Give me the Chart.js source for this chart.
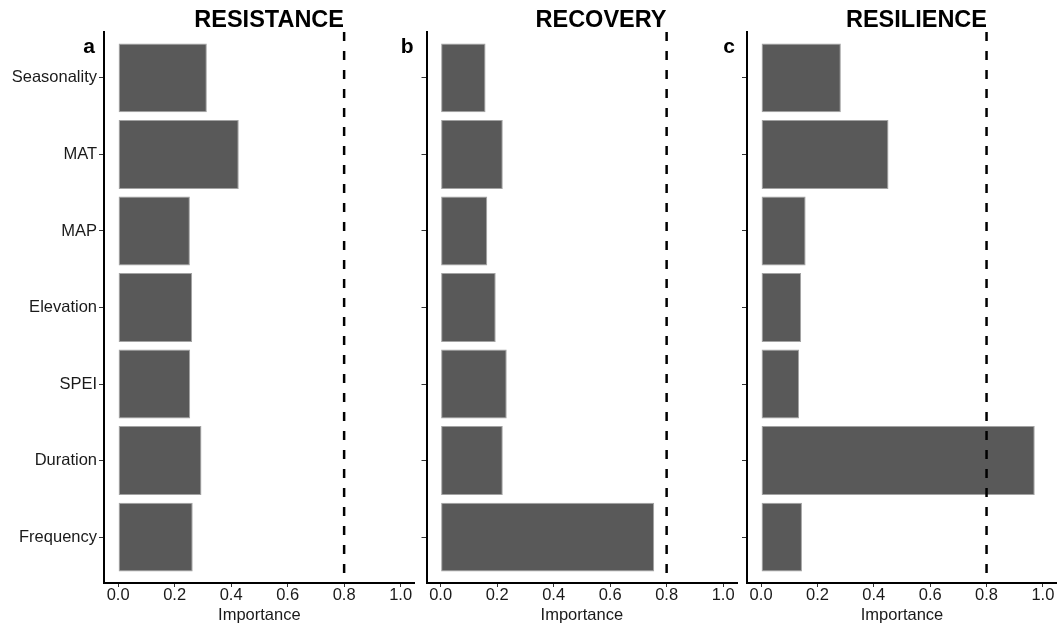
<!DOCTYPE html>
<html>
<head>
<meta charset="utf-8">
<script src="https://cdn.jsdelivr.net/npm/chart.js@4/dist/chart.umd.min.js"></script>
<style>
  html, body { margin: 0; padding: 0; background: #ffffff; }
  #wrap { position: relative; width: 1057px; height: 624px; overflow: hidden; background: #ffffff; }
  #wrap canvas { position: absolute; top: 0; }
</style>
</head>
<body>
<div id="wrap">
  <canvas id="panelA" style="left:0px"></canvas>
  <canvas id="panelB" style="left:380px"></canvas>
  <canvas id="panelC" style="left:700px"></canvas>
</div>
<script>
// Predictor variables (top to bottom)
const categories = ['Seasonality', 'MAT', 'MAP', 'Elevation', 'SPEI', 'Duration', 'Frequency'];

// Relative importance of each predictor
const resistance = [0.314, 0.427, 0.254, 0.262, 0.255, 0.295, 0.264];
const recovery   = [0.159, 0.220, 0.165, 0.195, 0.234, 0.220, 0.756];
const resilience = [0.283, 0.452, 0.158, 0.142, 0.135, 0.971, 0.145];

// Axis ticks and the importance cut-off line
const xTicks = [0.0, 0.2, 0.4, 0.6, 0.8, 1.0];
const threshold = 0.8;

const FONT = '"Liberation Sans", Arial, Helvetica, sans-serif';
const TEXT = '#1a1a1a';

// Panel title, letter tag and dashed cut-off line
const panelDecor = {
  id: 'panelDecor',
  afterDatasetsDraw(chart, args, opts) {
    const { ctx, chartArea, scales } = chart;
    const x = scales.x.getPixelForValue(threshold);
    ctx.save();
    ctx.strokeStyle = '#000000';
    ctx.lineWidth = 2.5;
    ctx.setLineDash([9, 10]);
    ctx.beginPath();
    ctx.moveTo(x, chartArea.top);
    ctx.lineTo(x, chartArea.bottom);
    ctx.stroke();
    ctx.restore();
  },
  afterDraw(chart, args, opts) {
    const { ctx, chartArea } = chart;
    ctx.save();
    ctx.fillStyle = '#000000';
    ctx.textBaseline = 'alphabetic';
    ctx.font = 'bold 23.5px ' + FONT;
    ctx.textAlign = 'right';
    ctx.fillText(opts.title, chartArea.left + 240, 27);
    ctx.font = 'bold 21px ' + FONT;
    ctx.fillText(opts.tag, chartArea.left - opts.tagGap, 53);
    ctx.restore();
  }
};

function makePanel(id, values, cfg) {
  const el = document.getElementById(id);
  el.width = cfg.width;
  el.height = 624;
  el.style.width = cfg.width + 'px';
  el.style.height = '624px';
  return new Chart(el, {
    type: 'bar',
    data: {
      datasets: [{
        data: values.map((v, i) => ({ x: v, y: i + 1 })),
        backgroundColor: '#595959',
        borderColor: '#a3a3a3',
        borderWidth: 1,
        borderSkipped: false,
        categoryPercentage: 1.0,
        barPercentage: 0.9
      }]
    },
    options: {
      indexAxis: 'y',
      responsive: false,
      animation: false,
      events: [],
      layout: { padding: { top: 32, right: cfg.padRight, left: 0, bottom: 0 } },
      plugins: {
        legend: { display: false },
        tooltip: { enabled: false },
        panelDecor: { title: cfg.title, tag: cfg.tag, tagGap: cfg.tagGap }
      },
      scales: {
        x: {
          type: 'linear',
          min: -0.05,
          max: 1.05,
          afterBuildTicks: s => { s.ticks = xTicks.map(v => ({ value: v })); },
          afterFit: s => { s.height = 41; },
          border: { display: true, color: '#000000', width: 2 },
          grid: { display: true, drawOnChartArea: false, tickLength: 4, tickColor: '#333333', tickWidth: 1 },
          ticks: {
            padding: 0,
            color: TEXT,
            font: { family: FONT, size: 16.5, lineHeight: 1.0 },
            maxRotation: 0,
            autoSkip: false,
            callback: v => Number(v).toFixed(1)
          },
          title: {
            display: true,
            text: 'Importance',
            color: TEXT,
            font: { family: FONT, size: 16.5, lineHeight: 1.0 },
            padding: { top: 2, bottom: 0 }
          }
        },
        y: {
          type: 'linear',
          reverse: true,
          offset: false,
          min: 0.4,
          max: 7.6,
          afterBuildTicks: s => { s.ticks = categories.map((c, i) => ({ value: i + 1 })); },
          afterFit: s => { s.width = cfg.axisLeft; },
          border: { display: true, color: '#000000', width: 2 },
          grid: { display: true, offset: false, drawOnChartArea: false, tickLength: 5, tickColor: '#333333', tickWidth: 1 },
          ticks: {
            padding: 2,
            color: TEXT,
            font: { family: FONT, size: 16.5 },
            autoSkip: false,
            callback: v => cfg.showLabels ? categories[Math.round(v) - 1] : ''
          }
        }
      }
    },
    plugins: [panelDecor]
  });
}

makePanel('panelA', resistance, { width: 420, axisLeft: 104, padRight: 5.25, title: 'RESISTANCE', tag: 'a', tagGap: 9, showLabels: true });
makePanel('panelB', recovery,   { width: 360, axisLeft: 46.5, padRight: 2.75, title: 'RECOVERY',   tag: 'b', tagGap: 13, showLabels: false });
makePanel('panelC', resilience, { width: 357, axisLeft: 47, padRight: 0, title: 'RESILIENCE', tag: 'c', tagGap: 12, showLabels: false });
</script>
</body>
</html>
